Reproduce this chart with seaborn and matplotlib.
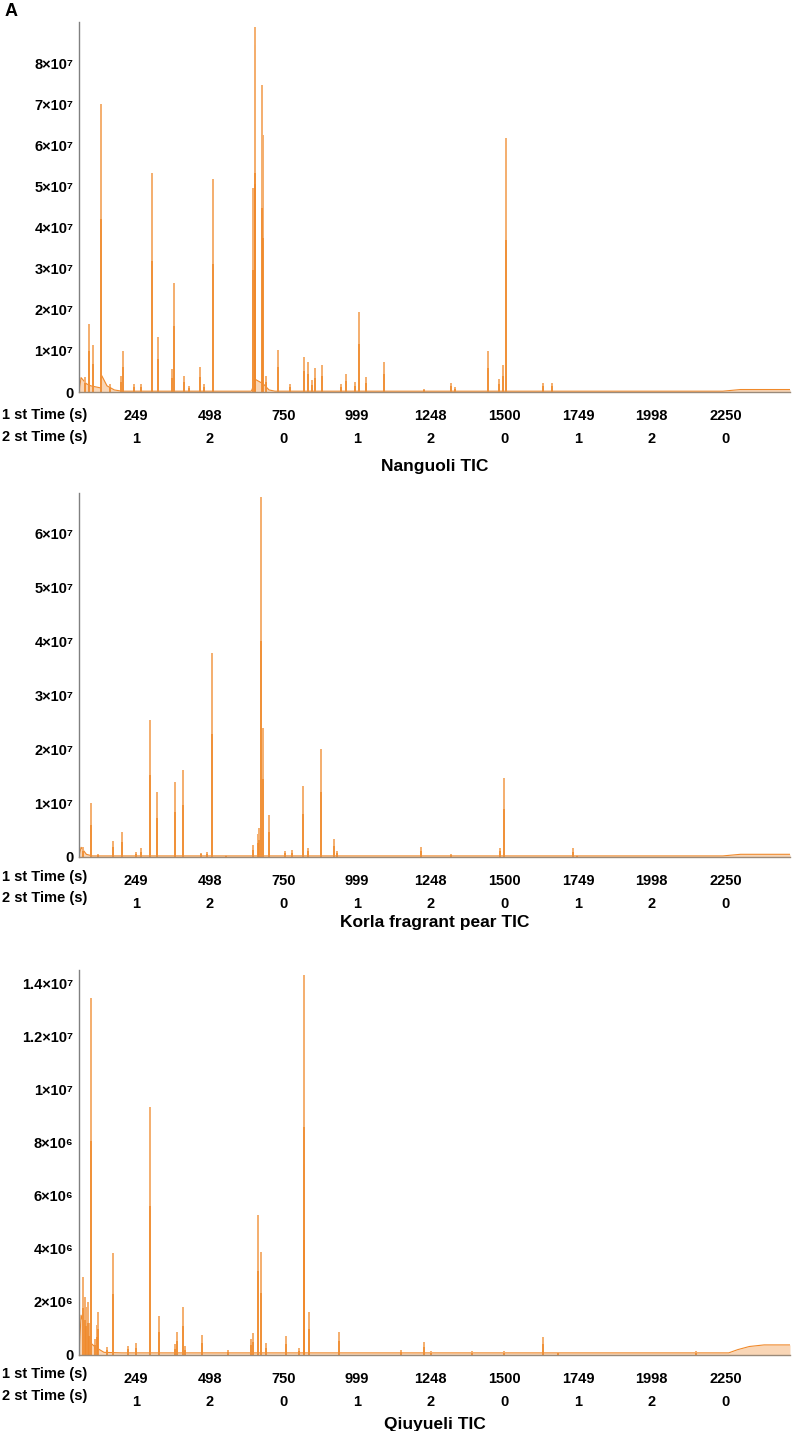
import numpy as np
import pandas as pd
import matplotlib
matplotlib.use("Agg")
import matplotlib.pyplot as plt
import seaborn as sns

# x axis: 1st dimension time ticks and 2nd dimension time labels
tick_1st = [249, 498, 750, 999, 1248, 1500, 1749, 1998, 2250]
tick_2nd = ['1', '2', '0', '1', '2', '0', '1', '2', '0']

# Nanguoli TIC peaks (time s, intensity x1e7)
ng_time = [76, 89, 101, 129, 160, 197, 206, 240, 265, 303, 323, 372, 379, 413, 428,
           467, 480, 510, 646, 651, 654, 676, 678, 690, 732, 770, 820, 831, 845, 857,
           880, 945, 962, 990, 1006, 1030, 1089, 1225, 1316, 1332, 1442, 1481, 1495,
           1505, 1629, 1661]
ng_height = [0.36, 1.65, 1.15, 7.0, 0.2, 0.4, 1.0, 0.2, 0.2, 5.33, 1.33, 0.55, 2.66, 0.4, 0.15,
             0.6, 0.2, 5.18, 4.96, 8.88, 8.45, 7.47, 6.25, 0.4, 1.03, 0.2, 0.85, 0.73, 0.3, 0.58,
             0.66, 0.2, 0.44, 0.25, 1.94, 0.36, 0.74, 0.08, 0.23, 0.12, 0.99, 0.32, 0.65,
             6.17, 0.23, 0.23]
ng_base_time = [55, 62, 80, 95, 128, 132, 150, 175, 200, 640, 655, 680, 700, 720, 2240, 2300, 2468]
ng_base = [0.0, 0.35, 0.2, 0.15, 0.1, 0.4, 0.15, 0.05, 0.02, 0.02, 0.3, 0.2, 0.05, 0.02, 0.02, 0.06, 0.06]

# Korla fragrant pear TIC peaks (time s, intensity x1e7)
kf_time = [68, 96, 120, 172, 201, 249, 267, 297, 321, 380, 408, 470, 490, 508, 555,
           645, 661, 666, 672, 679, 700, 754, 778, 815, 831, 876, 920, 930, 1216, 1316,
           1483, 1499, 1731, 1745]
kf_height = [0.19, 1.0, 0.05, 0.3, 0.47, 0.1, 0.16, 2.54, 1.21, 1.40, 1.62, 0.08, 0.1, 3.79, 0.04,
             0.23, 0.42, 0.53, 6.67, 2.4, 0.78, 0.11, 0.13, 1.32, 0.17, 2.0, 0.33, 0.12, 0.18, 0.05,
             0.17, 1.47, 0.16, 0.04]
kf_base_time = [55, 62, 80, 100, 2240, 2300, 2468]
kf_base = [0.0, 0.18, 0.05, 0.02, 0.02, 0.05, 0.05]

# Qiuyueli TIC peaks (time s, intensity x1e6)
qy_time = [70, 75, 80, 84, 88, 95, 110, 115, 121, 150, 172, 220, 249, 297, 328, 380,
           387, 408, 415, 472, 560, 640, 647, 662, 674, 690, 757, 800, 817, 819, 834,
           936, 1148, 1225, 1250, 1390, 1499, 1630, 1680, 2150]
qy_height = [2.95, 2.2, 1.8, 2.0, 1.2, 13.43, 0.6, 1.13, 1.63, 0.3, 3.85, 0.35, 0.44, 9.35, 1.47, 0.4,
             0.88, 1.8, 0.34, 0.75, 0.2, 0.6, 0.84, 5.27, 3.88, 0.44, 0.72, 0.25, 14.3, 7.2, 1.63,
             0.88, 0.2, 0.5, 0.15, 0.15, 0.15, 0.69, 0.12, 0.15]
qy_base_time = [55, 62, 75, 90, 110, 140, 200, 2260, 2290, 2330, 2380, 2468]
qy_base = [0.0, 1.5, 1.0, 0.5, 0.3, 0.1, 0.08, 0.08, 0.2, 0.32, 0.38, 0.38]

panels = [
    dict(name='Nanguoli TIC', t=ng_time, h=ng_height, bt=ng_base_time, b=ng_base, scale=1e7,
         yticks=[0, 1e7, 2e7, 3e7, 4e7, 5e7, 6e7, 7e7, 8e7],
         ylabels=['0', '1×10⁷', '2×10⁷', '3×10⁷', '4×10⁷', '5×10⁷', '6×10⁷', '7×10⁷', '8×10⁷'],
         ymax=9.0e7, rect=[79, 22, 790, 392], rows=[415, 437], title_y=467),
    dict(name='Korla fragrant pear TIC', t=kf_time, h=kf_height, bt=kf_base_time, b=kf_base, scale=1e7,
         yticks=[0, 1e7, 2e7, 3e7, 4e7, 5e7, 6e7],
         ylabels=['0', '1×10⁷', '2×10⁷', '3×10⁷', '4×10⁷', '5×10⁷', '6×10⁷'],
         ymax=6.75e7, rect=[79, 493, 790, 857], rows=[877, 898], title_y=923),
    dict(name='Qiuyueli TIC', t=qy_time, h=qy_height, bt=qy_base_time, b=qy_base, scale=1e6,
         yticks=[0, 2e6, 4e6, 6e6, 8e6, 1e7, 1.2e7, 1.4e7],
         ylabels=['0', '2×10⁶', '4×10⁶', '6×10⁶', '8×10⁶', '1×10⁷', '1.2×10⁷', '1.4×10⁷'],
         ymax=1.45e7, rect=[79, 970, 790, 1355], rows=[1374, 1396], title_y=1425),
]

sns.set_theme(style='white')
plt.rcParams['font.family'] = ['Liberation Sans', 'DejaVu Sans']
plt.rcParams['font.weight'] = 'bold'
plt.rcParams['text.color'] = 'black'
plt.rcParams['xtick.color'] = 'black'
plt.rcParams['ytick.color'] = 'black'

W, H = 793, 1431
fig = plt.figure(figsize=(W / 100, H / 100), dpi=100)

line_col = '#F0892A'
light_col = '#F4AE6E'
fs = 10.5

for p in panels:
    x0, y0, x1, y1 = p['rect']
    ax = fig.add_axes([x0 / W, 1 - y1 / H, (x1 - x0) / W, (y1 - y0) / H])

    peaks = pd.DataFrame({'time': p['t'], 'value': np.array(p['h']) * p['scale']})
    base = pd.DataFrame({'time': p['bt'], 'value': np.array(p['b']) * p['scale']})

    ax.fill_between(base['time'], 0, base['value'], color=light_col, alpha=0.5, lw=0)
    sns.lineplot(data=base, x='time', y='value', ax=ax, color=line_col, lw=0.8,
                 estimator=None, sort=False)
    ax.vlines(peaks['time'], 0, peaks['value'], color=light_col, lw=1.4)
    ax.vlines(peaks['time'], 0, peaks['value'] * 0.6, color=line_col, lw=1.1)

    ax.set_xlim(55, 2468)
    ax.set_ylim(0, p['ymax'])
    ax.set_yticks(p['yticks'])
    ax.set_yticklabels(p['ylabels'], fontsize=fs, fontweight='bold')
    ax.set_xticks(tick_1st)
    ax.set_xticklabels([f'{a}\n{b}' for a, b in zip(tick_1st, tick_2nd)],
                       fontsize=fs, fontweight='bold', linespacing=1.82)
    ax.tick_params(axis='x', length=3, width=0.8, color='#555555', pad=9, direction='out')
    ax.tick_params(axis='y', length=2, width=0.8, color='#555555', pad=2, direction='out')
    ax.set_xlabel('')
    ax.set_ylabel('')
    for s in ['top', 'right']:
        ax.spines[s].set_visible(False)
    ax.spines['left'].set_color('#808080')
    ax.spines['bottom'].set_color('#9A8A7A')
    ax.spines['left'].set_linewidth(1.0)
    ax.spines['bottom'].set_linewidth(1.0)

    fig.text(0.002, 1 - p['rows'][0] / H, '1 st Time (s)', fontsize=fs, fontweight='bold',
             va='center', ha='left')
    fig.text(0.002, 1 - p['rows'][1] / H, '2 st Time (s)', fontsize=fs, fontweight='bold',
             va='center', ha='left')
    fig.text((x0 + x1) / 2 / W, 1 - p['title_y'] / H, p['name'], fontsize=12.5,
             fontweight='bold', va='center', ha='center')

fig.text(0.006, 1 - 11 / H, 'A', fontsize=13, fontweight='bold', va='center', ha='left')

fig.savefig('out.png', dpi=100, facecolor='white')
